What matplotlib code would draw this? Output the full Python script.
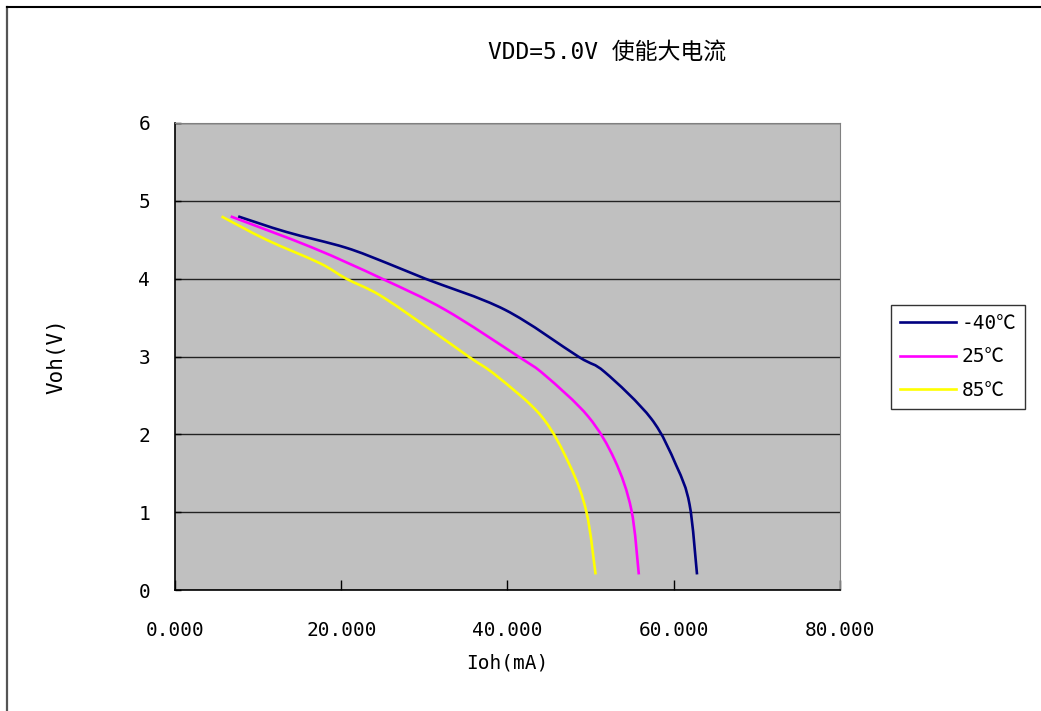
import numpy as np
import matplotlib.pyplot as plt
from matplotlib.lines import Line2D
from matplotlib.path import Path
from matplotlib.patches import PathPatch

plt.rcParams['font.family'] = ['DejaVu Sans Mono', 'Noto Sans CJK SC']

# Voh (V) vs Ioh (mA)
v_m40 = [4.8, 4.6, 4.4, 4.2, 4.0, 3.6, 3.0, 2.8, 2.2, 1.6, 1.1, 0.2]
i_m40 = [7.6, 13.4, 20.5, 25.5, 30.1, 39.7, 48.5, 51.7, 57.3, 60.3, 61.9, 62.8]

v_25 = [4.8, 4.4, 4.0, 3.6, 3.0, 2.76, 2.23, 1.67, 1.03, 0.2]
i_25 = [6.7, 16.5, 24.9, 32.5, 41.3, 44.5, 49.7, 52.9, 54.9, 55.8]

v_85 = [4.8, 4.5, 4.2, 4.0, 3.79, 3.4, 3.0, 2.75, 2.23, 1.6, 1.0, 0.2]
i_85 = [5.6, 11.0, 17.4, 20.6, 24.6, 30.0, 35.3, 38.7, 44.1, 47.5, 49.5, 50.6]

labels = ['-40℃', '25℃', '85℃']
colors = ['#000080', '#FF00FF', '#FFFF00']


def smooth_path(x, y, t=1/6.):
    # excel-like smoothed line: cubic bezier through the points
    p = np.column_stack([x, y])
    verts = [p[0]]
    codes = [Path.MOVETO]
    n = len(p)
    for k in range(n - 1):
        p0 = p[k - 1] if k > 0 else p[k]
        p3 = p[k + 2] if k + 2 < n else p[k + 1]
        c1 = p[k] + (p[k + 1] - p0) * t
        c2 = p[k + 1] - (p3 - p[k]) * t
        verts += [c1, c2, p[k + 1]]
        codes += [Path.CURVE4] * 3
    return Path(verts, codes)


fig = plt.figure(figsize=(10.41, 7.11), dpi=100)
ax = fig.add_axes([175/1041, 121/711, 665/1041, 467/711])
ax.set_facecolor('#C0C0C0')

for (i, v), lab, c in zip([(i_m40, v_m40), (i_25, v_25), (i_85, v_85)], labels, colors):
    ax.add_patch(PathPatch(smooth_path(i, v), fill=False, edgecolor=c, lw=1.9,
                           capstyle='butt', zorder=3))
    ax.plot([], [], color=c, lw=1.9, label=lab)

ax.set_xlim(0, 80)
ax.set_ylim(0, 6)
ax.set_xticks([0, 20, 40, 60, 80])
ax.set_xticklabels(['%.3f' % t for t in [0, 20, 40, 60, 80]])
ax.set_yticks(range(7))
ax.yaxis.grid(True, color='#222222', lw=1.0)
ax.set_axisbelow(True)
ax.tick_params(axis='x', direction='in', length=7, width=1, pad=22, labelsize=14)
ax.tick_params(axis='y', direction='in', length=4, width=1, pad=18, labelsize=14)
for s in ['top', 'right']:
    ax.spines[s].set_color('#808080')
for s in ['left', 'bottom']:
    ax.spines[s].set_color('black')
    ax.spines[s].set_linewidth(1.2)

ax.set_xlabel('Ioh(mA)', fontsize=14, labelpad=10)
ax.set_ylabel('Voh(V)', fontsize=15, labelpad=52)

fig.text(607/1041, 1 - 52/711, 'VDD=5.0V 使能大电流', fontsize=16.5,
         ha='center', va='center')

leg = ax.legend(loc='center left', bbox_to_anchor=(891/1041, 1 - 357/711),
                bbox_transform=fig.transFigure, fontsize=14, frameon=True,
                fancybox=False, edgecolor='black', handlelength=2.9,
                borderpad=0.45, labelspacing=0.75, handletextpad=0.3,
                borderaxespad=0)
leg.get_frame().set_linewidth(1.0)

# outer frame of the chart (top and left edges visible)
fig.add_artist(Line2D([7/1041, 7/1041], [0, 1 - 7/711], color='#555555', lw=1.6,
                      transform=fig.transFigure))
fig.add_artist(Line2D([7/1041, 1], [1 - 7/711, 1 - 7/711], color='black', lw=1.5,
                      transform=fig.transFigure))

fig.savefig('out.png', dpi=100)
